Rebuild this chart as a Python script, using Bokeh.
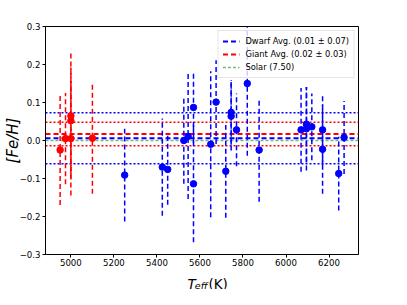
import numpy as np
from bokeh.plotting import figure
from bokeh.layouts import column
from bokeh.models import (Range1d, FixedTicker, CustomJSTickFormatter, Span,
                          Legend, LegendItem, ColumnDataSource)
from bokeh.core.properties import value
from bokeh.embed import file_html
from bokeh.resources import INLINE

# ---- data ----
dwarf_teff = [5250, 5425, 5450, 5525, 5545, 5570, 5570, 5650, 5675, 5720, 5745, 5745,
              5770, 5820, 5875, 6070, 6095, 6095, 6120, 6170, 6170, 6245, 6270]
dwarf_feh = [-0.091, -0.070, -0.076, 0.000, 0.011, 0.087, -0.114, -0.010, 0.101, -0.081,
             0.074, 0.064, 0.028, 0.150, -0.025, 0.028, 0.043, 0.031, 0.036, 0.028,
             -0.023, -0.087, 0.008]
dwarf_err = [0.122, 0.128, 0.093, 0.114, 0.165, 0.093, 0.154, 0.192, 0.110, 0.122,
             0.085, 0.090, 0.096, 0.190, 0.136, 0.110, 0.098, 0.110, 0.088, 0.093,
             0.117, 0.097, 0.096]
giant_teff = [4950, 4975, 5000, 5000, 5000, 5100]
giant_feh = [-0.025, 0.005, 0.065, 0.052, 0.005, 0.006]
giant_err = [0.145, 0.120, 0.165, 0.140, 0.150, 0.146]

dwarf_avg, dwarf_std = 0.006, 0.067
giant_avg, giant_std = 0.017, 0.031
solar_feh, solar_abund = 0.0, 7.50

x_ticks = [5000, 5200, 5400, 5600, 5800, 6000, 6200]
y_ticks = [-0.3, -0.2, -0.1, 0.0, 0.1, 0.2, 0.3]
x_limits = (4882, 6337)
y_limits = (-0.3, 0.3)

FONT = "DejaVu Sans"
W = 391
H_MAIN = 269
H_XLAB = 20

p = figure(width=W, height=H_MAIN, output_backend="svg", toolbar_location=None,
           title=None, x_range=Range1d(*x_limits), y_range=Range1d(*y_limits),
           min_border_left=42, min_border_right=33, min_border_top=26, min_border_bottom=15)
p.background_fill_color = "white"
p.border_fill_color = "white"
p.xgrid.visible = False
p.ygrid.visible = False
p.outline_line_color = "black"
p.outline_line_width = 1
p.outline_line_alpha = 1

for ax in (p.xaxis[0], p.yaxis[0]):
    ax.axis_line_color = "black"
    ax.axis_line_width = 1
    ax.major_tick_line_color = "black"
    ax.major_tick_out = 3
    ax.major_tick_in = 0
    ax.minor_tick_line_color = None
    ax.major_label_text_font = FONT
    ax.major_label_text_font_size = "8.6px"
    ax.major_label_text_color = "black"
    ax.major_label_standoff = 2
p.xaxis.major_label_standoff = 1
p.xaxis.ticker = FixedTicker(ticks=x_ticks)
p.yaxis.ticker = FixedTicker(ticks=y_ticks)
p.yaxis.formatter = CustomJSTickFormatter(
    code="return tick.toFixed(1).replace('-', '\u2212');")

p.yaxis.axis_label = "[Fe/H]"
p.yaxis.axis_label_text_font = FONT
p.yaxis.axis_label_text_font_style = "italic"
p.yaxis.axis_label_text_font_size = "15px"
p.yaxis.axis_label_text_color = "black"
p.yaxis.axis_label_standoff = -5

# dotted +/- 1 sigma lines
for loc, col in [(dwarf_avg + dwarf_std, "blue"), (dwarf_avg - dwarf_std, "blue"),
                 (giant_avg + giant_std, "red"), (giant_avg - giant_std, "red")]:
    p.add_layout(Span(location=loc, dimension="width", line_color=col, line_dash="2 2",
                      line_width=1.5, level="underlay"))

# average / solar lines (also used for the legend)
r_s = p.line(x=list(x_limits), y=[solar_feh] * 2, line_color="green", line_dash="3 2",
             line_width=1.6, line_alpha=0.55)
r_d = p.line(x=list(x_limits), y=[dwarf_avg] * 2, line_color="blue", line_dash="5 3",
             line_width=2)
r_g = p.line(x=list(x_limits), y=[giant_avg] * 2, line_color="red", line_dash="5 3",
             line_width=2)

# error bars and points
def draw(teff, feh, err, col):
    t = np.array(teff, float)
    f = np.array(feh, float)
    e = np.array(err, float)
    src = ColumnDataSource(dict(x=t, y=f, lo=f - e, hi=f + e))
    p.segment(x0="x", y0="lo", x1="x", y1="hi", source=src, line_color=col,
              line_width=1.5, line_dash="5 3")
    p.scatter(x="x", y="y", source=src, size=6.5, fill_color=col, line_color=col)

draw(dwarf_teff, dwarf_feh, dwarf_err, "blue")
draw(giant_teff, giant_feh, giant_err, "red")

legend = Legend(items=[
    LegendItem(label=f"Dwarf Avg. ({dwarf_avg:.2f} \u00b1 {dwarf_std:.2f})", renderers=[r_d]),
    LegendItem(label=f"Giant Avg. ({giant_avg:.2f} \u00b1 {giant_std:.2f})", renderers=[r_g]),
    LegendItem(label=f"Solar ({solar_abund:.2f})", renderers=[r_s]),
], location="top_right")
legend.margin = 4
legend.padding = 4
legend.spacing = 1
legend.glyph_width = 17
legend.glyph_height = 12
legend.label_height = 12
legend.label_standoff = 6
legend.label_text_font = FONT
legend.label_text_font_size = "8.3px"
legend.label_text_color = "black"
legend.border_line_color = "#cccccc"
legend.border_line_width = 1
legend.background_fill_alpha = 0.8
p.add_layout(legend)

# x axis label strip (T_eff (K)) as real text, in pixel-like coordinates
xl = figure(width=W, height=H_XLAB, output_backend="svg", toolbar_location=None,
            title=None, x_range=Range1d(0, W), y_range=Range1d(0, H_XLAB),
            x_axis_location=None, y_axis_location=None,
            min_border=0, min_border_left=0, min_border_right=0,
            min_border_top=0, min_border_bottom=0)
xl.outline_line_color = None
xl.xgrid.visible = False
xl.ygrid.visible = False
xl.background_fill_color = "white"
xl.border_fill_color = "white"
for txt, x, y, size, style in [("T", 177.5, 6.0, "13.5px", "italic"),
                               ("eff", 186.5, 3.6, "9.5px", "italic"),
                               ("(K)", 203.5, 6.0, "13.5px", "normal")]:
    xl.text(x=[x], y=[y], text=[txt], text_font=value(FONT), text_font_style=style,
            text_font_size=size, text_baseline="alphabetic", text_align="left",
            text_color="black")

layout = column(p, xl, spacing=0)
open("out.html", "w").write(file_html(layout, INLINE))
